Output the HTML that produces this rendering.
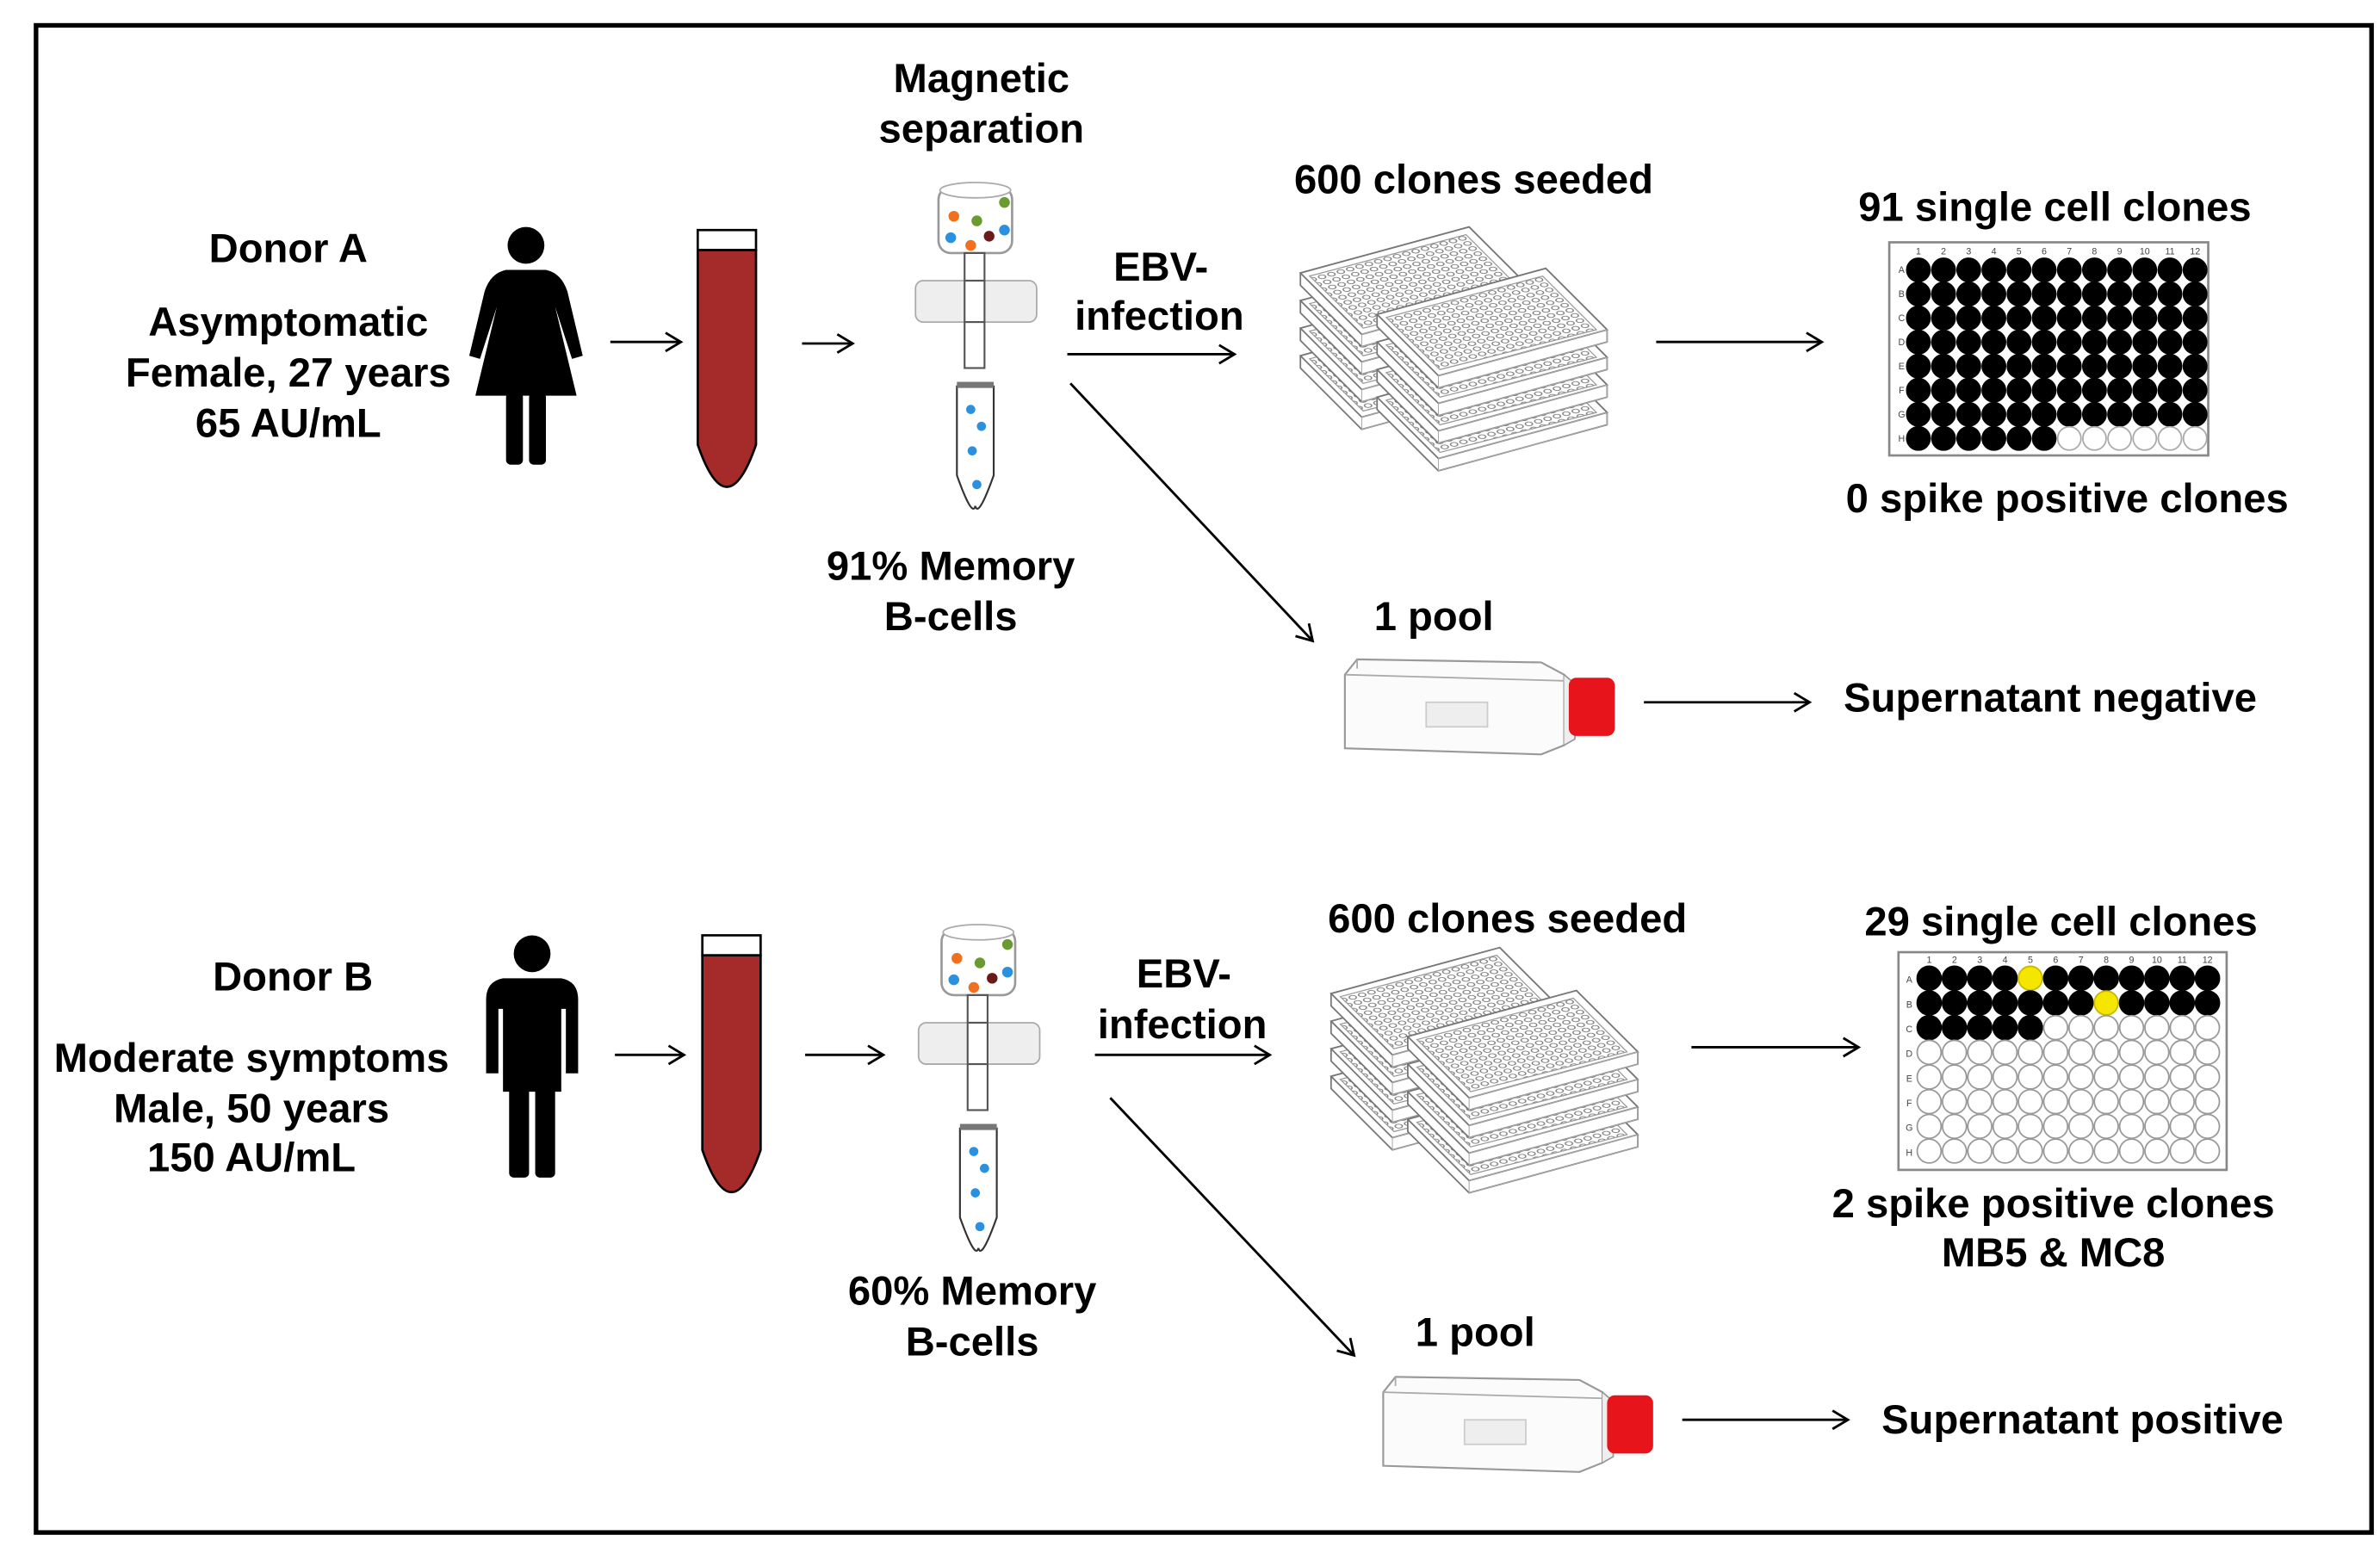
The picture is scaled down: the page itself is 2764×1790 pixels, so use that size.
<!DOCTYPE html>
<html><head><meta charset="utf-8"><style>
html,body{margin:0;padding:0;background:#fff;}
svg{display:block;}
text{font-family:"Liberation Sans",Arial,sans-serif;font-weight:bold;font-size:26.5px;fill:#000;text-anchor:middle;}
</style></head><body>
<svg id="s" width="2764" height="1790" viewBox="0 0 1552 1005" xmlns="http://www.w3.org/2000/svg">
<defs>
<marker id="ah" markerWidth="14" markerHeight="14" refX="12" refY="7" orient="auto" markerUnits="userSpaceOnUse">
<path d="M2,1 L12,7 L2,13" fill="none" stroke="#000" stroke-width="1.6"/>
</marker>
<pattern id="dots" width="1" height="1" patternUnits="userSpaceOnUse" patternTransform="matrix(6.1,-1.67,3.33,3.33,0,0)">
<circle cx="0.5" cy="0.5" r="0.34" fill="none" stroke="#777" stroke-width="0.12"/>
</pattern>
<g id="plate">
<path d="M0,0 L110,-30 L150,10 L150,18 L40,48 L0,8 Z" fill="#fff" stroke="#777" stroke-width="1"/>
<path d="M0,0 L110,-30 L150,10 L40,40 Z" fill="#fff" stroke="#777" stroke-width="1"/>
<path d="M6,2 L108,-25 L143,10 L41,36 Z" fill="url(#dots)" stroke="#999" stroke-width="0.7"/>
<path d="M40,40 L150,10 L150,18 L40,48 Z" fill="none" stroke="#aaa" stroke-width="0.6"/>
</g>
<g id="stack">
<use href="#plate" x="0" y="54"/><use href="#plate" x="0" y="36"/><use href="#plate" x="0" y="18"/><use href="#plate" x="0" y="0"/>
</g>
<g id="flask">
<path d="M2,12 L10,2 L130,4 L145,12 L145,58 L130,64 L2,60 Z" fill="#fbfbfb" stroke="#999" stroke-width="1.2"/>
<path d="M2,12 L145,16 M10,2 L10,8" stroke="#aaa" stroke-width="1" fill="none"/>
<rect x="55" y="30" width="40" height="16" fill="#eee" stroke="#ccc"/>
<path d="M145,12 L152,18 L152,54 L145,58" fill="#eee" stroke="#999"/>
<rect x="148" y="14" width="30" height="38" rx="5" fill="#e8141c"/>
</g>
<g id="column">
<rect x="612" y="122" width="48" height="43" rx="8" fill="#fff" stroke="#999" stroke-width="1.5"/>
<ellipse cx="636" cy="124" rx="23" ry="5" fill="#fff" stroke="#aaa"/>
<rect x="629" y="165" width="13" height="75" fill="#fff" stroke="#555" stroke-width="1.2"/>
<rect x="597" y="183" width="79" height="27" rx="5" fill="#eee" stroke="#aaa"/>
<rect x="629" y="183" width="13" height="27" fill="#fff" stroke="#555" stroke-width="1.2"/>
<circle cx="622" cy="141" r="3.5" fill="#f07020"/><circle cx="655" cy="132" r="3.5" fill="#6a9a30"/>
<circle cx="637" cy="144" r="3.5" fill="#6a9a30"/><circle cx="655" cy="150" r="3.5" fill="#2a90e0"/>
<circle cx="620" cy="155" r="3.5" fill="#2a90e0"/><circle cx="645" cy="154" r="3.5" fill="#6b1a1a"/>
<circle cx="633" cy="160" r="3.5" fill="#f07020"/>
<path d="M624,252 h24 v58 Q638,338 636,330 Q634,338 624,310 Z" fill="#fff" stroke="#333" stroke-width="1.2"/>
<rect x="624" y="249" width="24" height="4" fill="#777"/>
<circle cx="633" cy="267" r="3" fill="#2a90e0"/><circle cx="640" cy="278" r="3" fill="#2a90e0"/>
<circle cx="634" cy="294" r="3" fill="#2a90e0"/><circle cx="637" cy="316" r="3" fill="#2a90e0"/>
</g>
<g id="blood">
<path d="M455,163 L493,163 L493,290 Q474,345 455,290 Z" fill="#a52a2a" stroke="#000" stroke-width="1.5"/>
<rect x="455" y="150" width="38" height="13" fill="#fff" stroke="#000" stroke-width="1.5"/>
</g>
</defs>
<rect x="0" y="0" width="1552" height="1005" fill="#fff"/>
<rect x="23.5" y="16.5" width="1523" height="983" fill="none" stroke="#000" stroke-width="3"/>

<!-- Donor A -->
<text x="188" y="171">Donor A</text>
<text x="188" y="219">Asymptomatic</text>
<text x="188" y="252">Female, 27 years</text>
<text x="188" y="285">65 AU/mL</text>
<circle cx="343" cy="160" r="12"/>
<path d="M330,176 L356,176 Q366,178 370,190 L380,232 L373,234 L362,200 L376,258 L310,258 L324,200 L313,234 L306,232 L316,190 Q320,178 330,176 Z"/>
<rect x="330" y="256" width="11" height="47" rx="3"/><rect x="345" y="256" width="11" height="47" rx="3"/>
<line x1="398" y1="223" x2="444" y2="223" stroke="#000" stroke-width="1.6" marker-end="url(#ah)"/>
<use href="#blood"/>
<line x1="523" y1="224" x2="556" y2="224" stroke="#000" stroke-width="1.6" marker-end="url(#ah)"/>
<use href="#column"/>
<text x="640" y="60">Magnetic</text>
<text x="640" y="93">separation</text>
<text x="620" y="378">91% Memory</text>
<text x="620" y="411">B-cells</text>
<text x="757" y="183">EBV-</text>
<text x="756" y="215">infection</text>
<line x1="696" y1="231" x2="805" y2="231" stroke="#000" stroke-width="1.6" marker-end="url(#ah)"/>
<line x1="698" y1="250" x2="856" y2="418" stroke="#000" stroke-width="1.6" marker-end="url(#ah)"/>
<text x="961" y="126">600 clones seeded</text>
<use href="#stack" x="848" y="178"/>
<use href="#stack" x="898" y="205"/>
<line x1="1080" y1="223" x2="1188" y2="223" stroke="#000" stroke-width="1.6" marker-end="url(#ah)"/>
<text x="1340" y="144">91 single cell clones</text>
<rect x="1232" y="158" width="208" height="139" fill="#fff" stroke="#888" stroke-width="1.5"/>
<g id="wellsA"></g>
<text x="1348" y="334">0 spike positive clones</text>
<text x="935" y="411">1 pool</text>
<use href="#flask" x="875" y="428"/>
<line x1="1072" y1="458" x2="1180" y2="458" stroke="#000" stroke-width="1.6" marker-end="url(#ah)"/>
<text x="1337" y="464">Supernatant negative</text>

<!-- Donor B -->
<text x="191" y="646">Donor B</text>
<text x="164" y="699">Moderate symptoms</text>
<text x="164" y="732">Male, 50 years</text>
<text x="164" y="764">150 AU/mL</text>
<circle cx="347" cy="622" r="12"/>
<path d="M328,638 L366,638 Q377,640 377,652 L377,700 L369,700 L369,658 L366,658 L366,712 L328,712 L328,658 L325,658 L325,700 L317,700 L317,652 Q317,640 328,638 Z"/>
<rect x="332" y="708" width="13" height="60" rx="3"/><rect x="349" y="708" width="13" height="60" rx="3"/>
<line x1="401" y1="688" x2="446" y2="688" stroke="#000" stroke-width="1.6" marker-end="url(#ah)"/>
<use href="#blood" x="3" y="460"/>
<line x1="525" y1="688" x2="576" y2="688" stroke="#000" stroke-width="1.6" marker-end="url(#ah)"/>
<use href="#column" x="2" y="484"/>
<text x="634" y="851">60% Memory</text>
<text x="634" y="884">B-cells</text>
<text x="772" y="644">EBV-</text>
<text x="771" y="677">infection</text>
<line x1="714" y1="688" x2="828" y2="688" stroke="#000" stroke-width="1.6" marker-end="url(#ah)"/>
<line x1="724" y1="716" x2="883" y2="884" stroke="#000" stroke-width="1.6" marker-end="url(#ah)"/>
<text x="983" y="608">600 clones seeded</text>
<use href="#stack" x="868" y="648"/>
<use href="#stack" x="918" y="676"/>
<line x1="1103" y1="683" x2="1212" y2="683" stroke="#000" stroke-width="1.6" marker-end="url(#ah)"/>
<text x="1344" y="610">29 single cell clones</text>
<rect x="1238" y="621" width="214" height="142" fill="#fff" stroke="#888" stroke-width="1.5"/>
<g id="wellsB"></g>
<text x="1339" y="794">2 spike positive clones</text>
<text x="1339" y="826">MB5 &amp; MC8</text>
<text x="962" y="878">1 pool</text>
<use href="#flask" x="900" y="896"/>
<line x1="1097" y1="926" x2="1205" y2="926" stroke="#000" stroke-width="1.6" marker-end="url(#ah)"/>
<text x="1358" y="935">Supernatant positive</text>
</svg>
<script>
(function(){
var NS="http://www.w3.org/2000/svg";
function well(g,x,y,r,fill,stroke){var c=document.createElementNS(NS,"circle");c.setAttribute("cx",x);c.setAttribute("cy",y);c.setAttribute("r",r);c.setAttribute("fill",fill);c.setAttribute("stroke",stroke);c.setAttribute("stroke-width","1");g.appendChild(c);}
function lab(g,x,y,t){var e=document.createElementNS(NS,"text");e.setAttribute("x",x);e.setAttribute("y",y);e.setAttribute("style","font-size:6px;font-weight:normal;fill:#444");e.textContent=t;g.appendChild(e);}
var rows="ABCDEFGH";
var gA=document.getElementById("wellsA");
for(var r=0;r<8;r++){lab(gA,1240,178+r*15.7,rows[r]);for(var c=0;c<12;c++){var f=(r<7||c<6);well(gA,1251+c*16.4,176+r*15.7,7.6,f?"#000":"#fff",f?"#000":"#aaa");}}
for(var c=0;c<12;c++)lab(gA,1251+c*16.4,166,""+(c+1));
var gB=document.getElementById("wellsB");
for(var r=0;r<8;r++){lab(gB,1245,641+r*16.1,rows[r]);for(var c=0;c<12;c++){var f=(r<2||(r==2&&c<5));var col=f?"#000":"#fff";var st=f?"#000":"#999";if((r==0&&c==4)||(r==1&&c==7)){col="#f5e600";st="#c8b800";}well(gB,1258+c*16.5,638+r*16.1,7.8,col,st);}}
for(var c=0;c<12;c++)lab(gB,1258+c*16.5,628,""+(c+1));
})();
</script>
</body></html>
